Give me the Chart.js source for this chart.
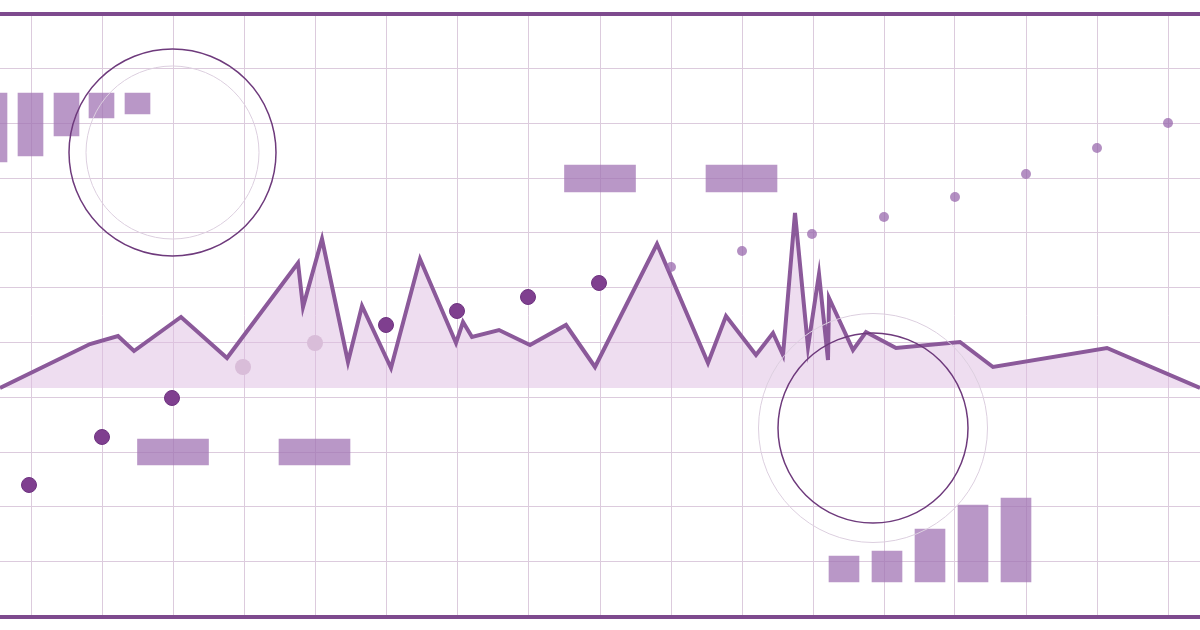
<!DOCTYPE html>
<html>
<head>
<meta charset="utf-8">
<script src="https://cdn.jsdelivr.net/npm/chart.js@4/dist/chart.umd.min.js"></script>
<style>
  html, body { margin: 0; padding: 0; background: #ffffff; overflow: hidden; }
  #wrap { width: 1200px; height: 630px; position: relative; }
  canvas { display: block; }
</style>
</head>
<body>
<div id="wrap"><canvas id="c" width="1200" height="630"></canvas></div>
<script>
// ---- data (x: 0..1200 left→right, y: 0..630 bottom→top) ----
const xGridTicks = [31, 102, 173, 244, 315, 386, 457, 528, 600, 671, 742, 813, 884, 955, 1026, 1097, 1168];
const yGridTicks = [616.5, 561.7, 506.9, 452.0, 397.2, 342.4, 287.6, 232.8, 178.0, 123.1, 68.3, 13.5];

const areaX = [0, 90, 118, 134, 181, 227, 298, 303, 322, 348, 362, 391, 420, 456, 463, 472, 499, 530, 566, 595, 657, 708, 726, 756, 773, 783, 795, 808, 819, 828, 829, 853, 866, 896, 960, 993, 1107, 1200];
const areaY = [242, 286, 294, 279, 313, 272, 367, 323, 391, 268, 324, 262, 371, 287, 308, 293, 300, 285, 305, 263, 386, 267, 314, 275, 297, 275, 417, 283, 356, 270, 332, 280, 298, 282, 288, 263, 282, 242];
const areaBase = 242;

const darkDotX = [29, 102, 172, 386, 457, 528, 599];
const darkDotY = [145, 193, 232, 305, 319, 333, 347];

const paleDotX = [243, 315];
const paleDotY = [263, 287];

const smallDotX = [671, 742, 812, 884, 955, 1026, 1097, 1168];
const smallDotY = [363, 379, 396, 413, 433, 456, 482, 507];

// hanging bars, top-left
const topBarX = [-5.5, 30.5, 66.5, 101.5, 137.5];
const topBarLow = [468, 474, 494, 512, 516];
const topBarHigh = [537, 537, 537, 537, 537];

// rising bars, bottom-right
const lowBarX = [844, 887, 930, 973, 1016];
const lowBarLow = [48, 48, 48, 48, 48];
const lowBarHigh = [74, 79, 101, 125, 132];

// wide blocks
const blockX = [600, 741.5, 173, 314.5];
const blockLow = [438, 438, 165, 165];
const blockHigh = [465, 465, 191, 191];

// rings
const ringX = [172.5, 873];
const ringY = [477.5, 202];

// ---- build ----
const pts = (xs, ys) => xs.map((x, i) => ({ x: x, y: ys[i] }));
const bars = (xs, lo, hi) => xs.map((x, i) => ({ x: x, y: [lo[i], hi[i]] }));

const BORDER = '#7e4a8e';
const GRID = '#dccbdd';
const yMin = yGridTicks[yGridTicks.length - 1];
const yMax = yGridTicks[0];

new Chart(document.getElementById('c'), {
  type: 'scatter',
  data: {
    datasets: [
      {
        type: 'line', order: 10,
        data: pts(areaX, areaY),
        borderColor: '#8b599a', borderWidth: 4, borderJoinStyle: 'miter',
        backgroundColor: 'rgba(221,187,226,0.5)',
        fill: { value: areaBase },
        pointRadius: 0, tension: 0
      },
      {
        type: 'bar', order: 8, grouped: false,
        data: bars(topBarX, topBarLow, topBarHigh),
        backgroundColor: 'rgba(160,115,180,0.74)', barThickness: 25
      },
      {
        type: 'bar', order: 8, grouped: false,
        data: bars(lowBarX, lowBarLow, lowBarHigh),
        backgroundColor: 'rgba(160,115,180,0.74)', barThickness: 30
      },
      {
        type: 'bar', order: 8, grouped: false,
        data: bars(blockX, blockLow, blockHigh),
        backgroundColor: 'rgba(160,115,180,0.74)', barThickness: 71
      },
      {
        order: 6,
        data: pts([ringX[0]], [ringY[0]]),
        pointRadius: 86.5, pointBorderWidth: 1, pointBorderColor: '#dccfdf',
        pointBackgroundColor: 'rgba(0,0,0,0)'
      },
      {
        order: 6,
        data: pts([ringX[0]], [ringY[0]]),
        pointRadius: 103.5, pointBorderWidth: 1.5, pointBorderColor: '#6e3a7c',
        pointBackgroundColor: 'rgba(0,0,0,0)'
      },
      {
        order: 6,
        data: pts([ringX[1]], [ringY[1]]),
        pointRadius: 114.5, pointBorderWidth: 1, pointBorderColor: '#dccfdf',
        pointBackgroundColor: 'rgba(0,0,0,0)'
      },
      {
        order: 6,
        data: pts([ringX[1]], [ringY[1]]),
        pointRadius: 95, pointBorderWidth: 1.5, pointBorderColor: '#6e3a7c',
        pointBackgroundColor: 'rgba(0,0,0,0)'
      },
      {
        order: 4,
        data: pts(paleDotX, paleDotY),
        pointRadius: 8, pointBorderWidth: 0, pointBackgroundColor: '#d9bdd9'
      },
      {
        order: 3,
        data: pts(smallDotX, smallDotY),
        pointRadius: 5, pointBorderWidth: 0, pointBackgroundColor: 'rgba(150,100,170,0.72)'
      },
      {
        order: 2,
        data: pts(darkDotX, darkDotY),
        pointRadius: 7.5, pointBorderWidth: 1, pointBorderColor: '#6e3380',
        pointBackgroundColor: '#7f3f8f'
      }
    ]
  },
  options: {
    responsive: false,
    animation: false,
    devicePixelRatio: 1,
    maintainAspectRatio: false,
    layout: { padding: { top: 630 - yMax, bottom: yMin, left: 0, right: 0 }, autoPadding: false },
    plugins: { legend: { display: false }, tooltip: { enabled: false } },
    events: [],
    scales: {
      x: {
        type: 'linear', min: 0, max: 1200, offset: false,
        afterBuildTicks: s => { s.ticks = xGridTicks.map(v => ({ value: v })); },
        ticks: { display: false },
        grid: { color: GRID, lineWidth: 1, drawTicks: false, offset: false },
        border: { display: false }
      },
      y: {
        type: 'linear', min: yMin, max: yMax,
        afterBuildTicks: s => { s.ticks = yGridTicks.map(v => ({ value: v })); },
        ticks: { display: false },
        grid: {
          drawTicks: false,
          color: ctx => (ctx.index === 0 || ctx.index === yGridTicks.length - 1) ? BORDER : GRID,
          lineWidth: ctx => (ctx.index === 0 || ctx.index === yGridTicks.length - 1) ? 4 : 1
        },
        border: { display: false }
      }
    }
  }
});
</script>
</body>
</html>
